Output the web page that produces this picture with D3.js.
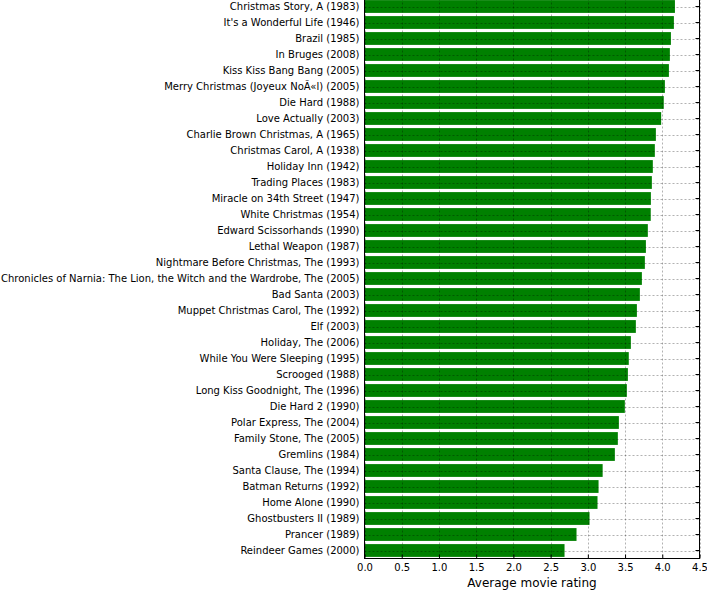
<!DOCTYPE html>
<html>
<head>
<meta charset="utf-8">
<script src="https://cdn.jsdelivr.net/npm/d3@7"></script>
<style>
  body { margin: 0; background: #fff; }
  svg { display: block; font-family: "DejaVu Sans", sans-serif; }
</style>
</head>
<body>
<svg id="chart" width="707" height="591"></svg>
<script>
// Movie titles, top to bottom
const titles = [
  'Christmas Story, A (1983)',
  "It's a Wonderful Life (1946)",
  'Brazil (1985)',
  'In Bruges (2008)',
  'Kiss Kiss Bang Bang (2005)',
  'Merry Christmas (Joyeux NoÃ«l) (2005)',
  'Die Hard (1988)',
  'Love Actually (2003)',
  'Charlie Brown Christmas, A (1965)',
  'Christmas Carol, A (1938)',
  'Holiday Inn (1942)',
  'Trading Places (1983)',
  'Miracle on 34th Street (1947)',
  'White Christmas (1954)',
  'Edward Scissorhands (1990)',
  'Lethal Weapon (1987)',
  'Nightmare Before Christmas, The (1993)',
  'Chronicles of Narnia: The Lion, the Witch and the Wardrobe, The (2005)',
  'Bad Santa (2003)',
  'Muppet Christmas Carol, The (1992)',
  'Elf (2003)',
  'Holiday, The (2006)',
  'While You Were Sleeping (1995)',
  'Scrooged (1988)',
  'Long Kiss Goodnight, The (1996)',
  'Die Hard 2 (1990)',
  'Polar Express, The (2004)',
  'Family Stone, The (2005)',
  'Gremlins (1984)',
  'Santa Clause, The (1994)',
  'Batman Returns (1992)',
  'Home Alone (1990)',
  'Ghostbusters II (1989)',
  'Prancer (1989)',
  'Reindeer Games (2000)'
];

// Average rating, same order as titles
const ratings = [
  4.17, 4.156, 4.116, 4.102, 4.089, 4.035, 4.02, 3.985, 3.914, 3.90,
  3.873, 3.86, 3.847, 3.845, 3.806, 3.78, 3.766, 3.726, 3.699, 3.659,
  3.645, 3.578, 3.55, 3.538, 3.524, 3.497, 3.417, 3.403, 3.363, 3.199,
  3.144, 3.13, 3.023, 2.848, 2.687
];

const xTicks = [0, 0.5, 1.0, 1.5, 2.0, 2.5, 3.0, 3.5, 4.0, 4.5];
const xLabel = 'Average movie rating';

const plotLeft = 364.5;
const plotRight = 699.5;
const plotTop = -1.5;
const plotBottom = 558.5;

const svg = d3.select('#chart');

const x = d3.scaleLinear()
  .domain([0, 4.5])
  .range([plotLeft, plotRight]);

const y = d3.scaleBand()
  .domain(titles)
  .range([plotTop, plotBottom])
  .paddingInner(0.2)
  .paddingOuter(0.1);

const rows = titles.map((t, i) => ({ title: t, value: ratings[i] }));

// Bars
svg.append('g')
  .selectAll('rect')
  .data(rows)
  .join('rect')
  .attr('x', x(0))
  .attr('y', d => y(d.title))
  .attr('width', d => x(d.value) - x(0))
  .attr('height', y.bandwidth())
  .attr('fill', '#008000');

// Grid (drawn over the bars, like the original)
const grid = svg.append('g')
  .attr('stroke', '#000')
  .attr('stroke-opacity', 0.3)
  .attr('stroke-dasharray', '2,2')
  .attr('fill', 'none');
grid.selectAll('.vgrid')
  .data(xTicks)
  .join('line')
  .attr('class', 'vgrid')
  .attr('x1', d => Math.round(x(d)) + 0.5)
  .attr('x2', d => Math.round(x(d)) + 0.5)
  .attr('y1', plotTop)
  .attr('y2', plotBottom);
grid.selectAll('.hgrid')
  .data(titles)
  .join('line')
  .attr('class', 'hgrid')
  .attr('x1', plotLeft)
  .attr('x2', plotRight)
  .attr('y1', d => Math.round(y(d) + y.bandwidth() / 2) + 0.5)
  .attr('y2', d => Math.round(y(d) + y.bandwidth() / 2) + 0.5);

// Left labels
const yAxis = svg.append('g')
  .attr('transform', `translate(${plotLeft},0)`)
  .call(d3.axisLeft(y).tickSize(0).tickPadding(5));
yAxis.select('.domain').remove();
yAxis.selectAll('text')
  .attr('font-family', '"DejaVu Sans", sans-serif')
  .attr('font-size', 10)
  .attr('fill', '#000');

// Right inward ticks
const yRight = svg.append('g')
  .attr('transform', `translate(${plotRight},0)`)
  .call(d3.axisRight(y).tickSize(-4).tickFormat(''));
yRight.select('.domain').remove();
yRight.selectAll('line').attr('stroke', '#000');

// Bottom axis
const xAxis = svg.append('g')
  .attr('transform', `translate(0,${plotBottom})`)
  .call(d3.axisBottom(x)
    .tickValues(xTicks)
    .tickFormat(d3.format('.1f'))
    .tickSizeInner(-4)
    .tickSizeOuter(0)
    .tickPadding(5));
xAxis.select('.domain').remove();
xAxis.selectAll('line').attr('stroke', '#000');
xAxis.selectAll('text')
  .attr('font-family', '"DejaVu Sans", sans-serif')
  .attr('font-size', 10)
  .attr('fill', '#000');

// Frame
svg.append('rect')
  .attr('x', plotLeft)
  .attr('y', plotTop)
  .attr('width', plotRight - plotLeft)
  .attr('height', plotBottom - plotTop)
  .attr('fill', 'none')
  .attr('stroke', '#000')
  .attr('stroke-width', 1);

// Axis title
svg.append('text')
  .attr('x', (plotLeft + plotRight) / 2)
  .attr('y', 587)
  .attr('text-anchor', 'middle')
  .attr('font-size', 12)
  .attr('fill', '#000')
  .text(xLabel);
</script>
</body>
</html>
